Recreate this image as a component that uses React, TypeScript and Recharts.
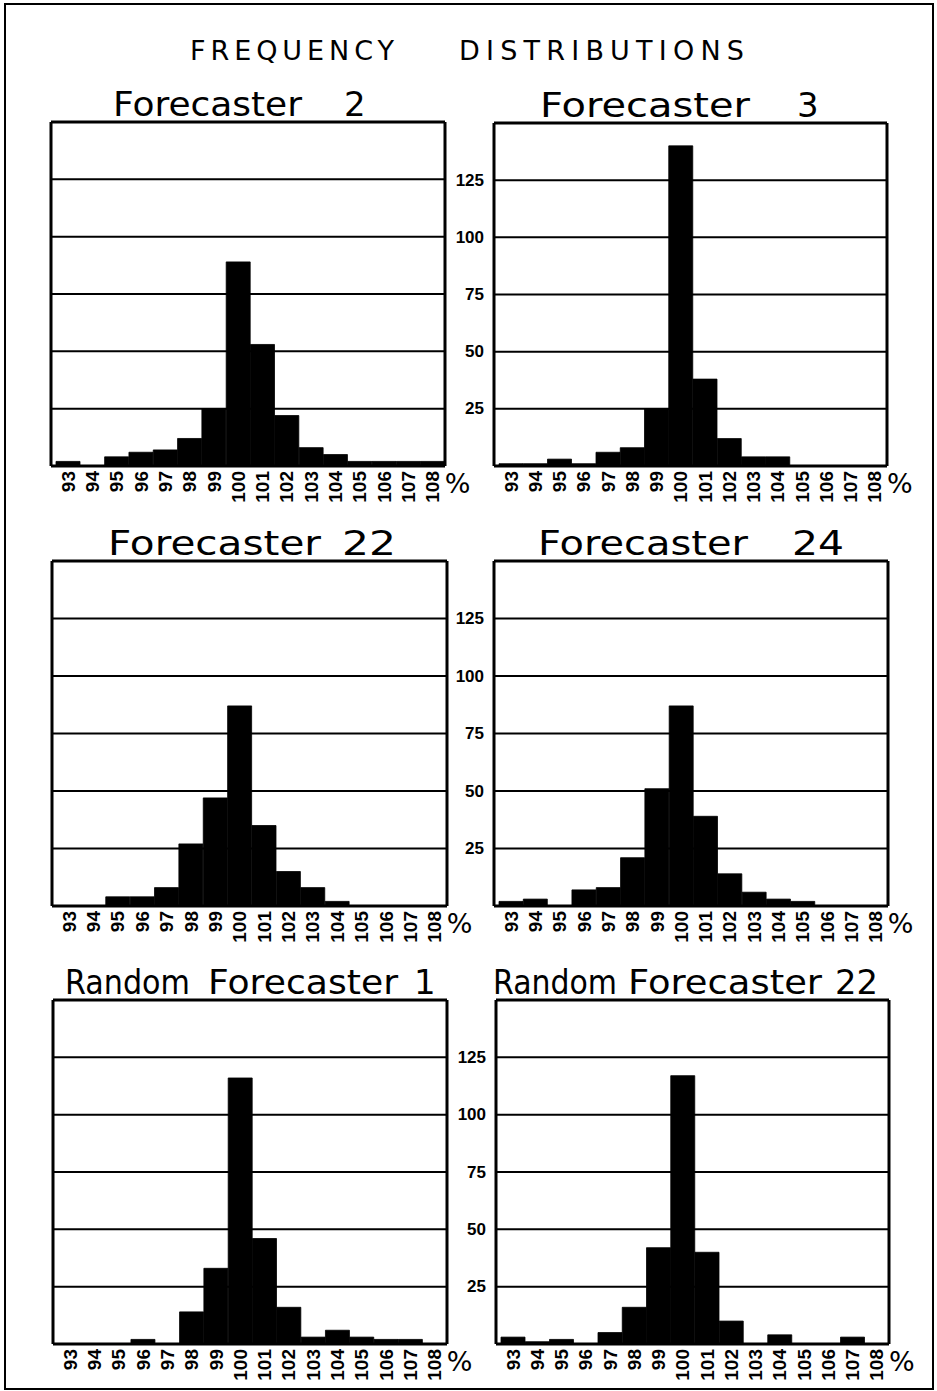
import React from 'react';
import { BarChart, Bar, XAxis, YAxis, CartesianGrid } from 'recharts';

// ---------- data ----------
const BINS = ['93', '94', '95', '96', '97', '98', '99', '100', '101', '102', '103', '104', '105', '106', '107', '108'];
const Y_TICKS = [0, 25, 50, 75, 100, 125, 150];
const Y_LABELS = [25, 50, 75, 100, 125];

const FORECASTER_2 = [2, 0, 4, 6, 7, 12, 25, 89, 53, 22, 8, 5, 2, 2, 2, 2];
const FORECASTER_3 = [1, 1, 3, 1, 6, 8, 25, 140, 38, 12, 4, 4, 0, 0, 0, 0];
const FORECASTER_22 = [0, 0, 4, 4, 8, 27, 47, 87, 35, 15, 8, 2, 0, 0, 0, 0];
const FORECASTER_24 = [2, 3, 0, 7, 8, 21, 51, 87, 39, 14, 6, 3, 2, 0, 0, 0];
const RANDOM_1 = [0, 0, 0, 2, 0, 14, 33, 116, 46, 16, 3, 6, 3, 2, 2, 0];
const RANDOM_22 = [3, 1, 2, 0, 5, 16, 42, 117, 40, 10, 0, 4, 0, 0, 3, 0];

const MAIN_TITLE = ['FREQUENCY', 'DISTRIBUTIONS'];

// ---------- layout ----------
type Box = { l: number; t: number; r: number; b: number };
type Word = { text: string; x: number; w?: number };

const AXIS_H = 52;
const YW_LABEL = 60;
const YW_PLAIN = 30;
const FONT_TITLE = '"DejaVu Sans", sans-serif';
const FONT_TICK = '"Liberation Sans", Arial, sans-serif';

const toData = (vals: number[]) => BINS.map((bin, i) => ({ bin, v: vals[i] }));

const PANELS: { values: number[]; box: Box; labels: boolean; words: Word[] }[] = [
  {
    values: FORECASTER_2,
    box: { l: 51, t: 121, r: 445, b: 466 },
    labels: false,
    words: [{ text: 'Forecaster', x: 113, w: 189 }, { text: '2', x: 344 }],
  },
  {
    values: FORECASTER_3,
    box: { l: 494, t: 122, r: 887, b: 466 },
    labels: true,
    words: [{ text: 'Forecaster', x: 540, w: 210 }, { text: '3', x: 797 }],
  },
  {
    values: FORECASTER_22,
    box: { l: 52, t: 560, r: 447, b: 906 },
    labels: false,
    words: [{ text: 'Forecaster', x: 108, w: 213 }, { text: '22', x: 342, w: 54 }],
  },
  {
    values: FORECASTER_24,
    box: { l: 494, t: 560, r: 888, b: 906 },
    labels: true,
    words: [{ text: 'Forecaster', x: 538, w: 210 }, { text: '24', x: 792, w: 52 }],
  },
  {
    values: RANDOM_1,
    box: { l: 53, t: 999, r: 447, b: 1344 },
    labels: false,
    words: [{ text: 'Random', x: 65, w: 125 }, { text: 'Forecaster', x: 208, w: 190 }, { text: '1', x: 414 }],
  },
  {
    values: RANDOM_22,
    box: { l: 496, t: 999, r: 889, b: 1344 },
    labels: true,
    words: [{ text: 'Random', x: 493, w: 124 }, { text: 'Forecaster', x: 628, w: 194 }, { text: '22', x: 835, w: 43 }],
  },
];

// ---------- ticks ----------
function XTick(props: any) {
  const { x, y, payload } = props;
  const isLast = payload.value === BINS[BINS.length - 1];
  const ay = y - 3;
  return (
    <g>
      <text
        x={x}
        y={ay}
        transform={`rotate(-90, ${x}, ${ay})`}
        textAnchor="end"
        dominantBaseline="central"
        fontFamily={FONT_TICK}
        fontWeight="bold"
        fontSize={19}
        fill="#000"
      >
        {payload.value}
      </text>
      {isLast && (
        <text x={x + 12} y={y + 19} fontFamily={FONT_TITLE} fontSize={27} fill="#000">
          %
        </text>
      )}
    </g>
  );
}

function YTick(props: any) {
  const { x, y, payload, show } = props;
  if (!show || !Y_LABELS.includes(payload.value)) return <g />;
  return (
    <text
      x={x}
      y={y}
      textAnchor="end"
      dominantBaseline="central"
      fontFamily={FONT_TICK}
      fontWeight="bold"
      fontSize={17}
      fill="#000"
    >
      {payload.value}
    </text>
  );
}

function EmptyTick() {
  return <g />;
}

const LINE = { stroke: '#000', strokeWidth: 3 };

function Panel({ values, box, labels }: { values: number[]; box: Box; labels: boolean }) {
  const yw = labels ? YW_LABEL : YW_PLAIN;
  const mTop = 4;
  const mRight = 50;
  const rw = 1;
  const width = yw + (box.r - box.l) + rw + mRight;
  const height = mTop + (box.b - box.t) + AXIS_H;
  return (
    <div style={{ position: 'absolute', left: box.l - yw, top: box.t - mTop }}>
      <BarChart
        width={width}
        height={height}
        data={toData(values)}
        margin={{ top: mTop, right: mRight, bottom: 0, left: 0 }}
        barCategoryGap={0}
        barGap={0}
      >
        <CartesianGrid vertical={false} stroke="#000" strokeWidth={2} xAxisId="b" yAxisId="l" />
        <XAxis
          xAxisId="b"
          dataKey="bin"
          interval={0}
          tick={<XTick />}
          tickLine={false}
          axisLine={LINE}
          height={AXIS_H}
          padding={{ left: 5, right: 0 }}
        />
        <XAxis
          xAxisId="t"
          dataKey="bin"
          orientation="top"
          tick={<EmptyTick />}
          tickLine={false}
          axisLine={LINE}
          height={1}
        />
        <YAxis
          yAxisId="l"
          domain={[0, 150]}
          ticks={Y_TICKS}
          interval={0}
          tick={<YTick show={labels} />}
          tickLine={false}
          tickSize={8}
          axisLine={LINE}
          width={yw}
        />
        <YAxis
          yAxisId="r"
          orientation="right"
          domain={[0, 150]}
          ticks={Y_TICKS}
          tick={<EmptyTick />}
          tickLine={false}
          axisLine={LINE}
          width={rw}
        />
        <Bar
          xAxisId="b"
          yAxisId="l"
          dataKey="v"
          fill="#000"
          stroke="#000"
          strokeWidth={0.8}
          isAnimationActive={false}
        />
      </BarChart>
    </div>
  );
}

export default function App() {
  return (
    <div
      style={{
        position: 'absolute',
        left: 0,
        top: 0,
        width: 937,
        height: 1391,
        background: '#fff',
        overflow: 'hidden',
      }}
    >
      <div
        style={{
          position: 'absolute',
          left: 4,
          top: 3,
          width: 930,
          height: 1387,
          border: '2px solid #000',
          boxSizing: 'border-box',
        }}
      />
      <svg width={937} height={1391} style={{ position: 'absolute', left: 0, top: 0 }}>
        <text x={190} y={60} fontFamily={FONT_TITLE} fontSize={27} textLength={204} lengthAdjust="spacing" fill="#000">
          {MAIN_TITLE[0]}
        </text>
        <text x={459} y={60} fontFamily={FONT_TITLE} fontSize={27} textLength={285} lengthAdjust="spacing" fill="#000">
          {MAIN_TITLE[1]}
        </text>
        {PANELS.map((p, i) =>
          p.words.map((w, j) => (
            <text
              key={`${i}-${j}`}
              x={w.x}
              y={p.box.t - 5}
              fontFamily={FONT_TITLE}
              fontSize={34}
              fill="#000"
              {...(w.w ? { textLength: w.w, lengthAdjust: 'spacingAndGlyphs' } : {})}
            >
              {w.text}
            </text>
          ))
        )}
      </svg>
      {PANELS.map((p, i) => (
        <Panel key={i} values={p.values} box={p.box} labels={p.labels} />
      ))}
    </div>
  );
}
